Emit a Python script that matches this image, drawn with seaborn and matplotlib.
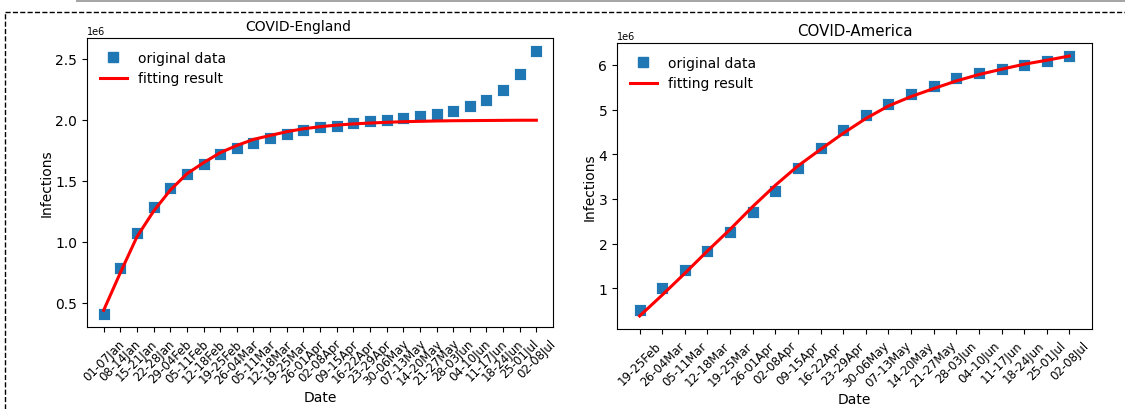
"""
COVID infections: original weekly data vs fitted curve
England (left) and America (right)
"""

import numpy as np
import pandas as pd
import matplotlib
matplotlib.use('Agg')
import matplotlib.pyplot as plt
from matplotlib.lines import Line2D
from matplotlib.patches import Rectangle
import seaborn as sns

# ---- data (infections, in millions) ----
england_weeks = ['01-07Jan', '08-14Jan', '15-21Jan', '22-28Jan', '29-04Feb', '05-11Feb',
                 '12-18Feb', '19-25Feb', '26-04Mar', '05-11Mar', '12-18Mar', '19-25Mar',
                 '26-01Apr', '02-08Apr', '09-15Apr', '16-22Apr', '23-29Apr', '30-06May',
                 '07-13May', '14-20May', '21-27May', '28-03Jun', '04-10Jun', '11-17Jun',
                 '18-24Jun', '25-01Jul', '02-08Jul']
england_original = [0.41, 0.784, 1.076, 1.284, 1.439, 1.554, 1.639, 1.716, 1.765,
                    1.806, 1.847, 1.885, 1.918, 1.939, 1.951, 1.970, 1.989, 2.002,
                    2.016, 2.030, 2.046, 2.068, 2.109, 2.164, 2.240, 2.374, 2.562]
england_fit = [0.439, 0.746, 1.041, 1.251, 1.423, 1.557, 1.648, 1.730, 1.789,
               1.839, 1.871, 1.902, 1.926, 1.943, 1.956, 1.966, 1.973, 1.979,
               1.984, 1.987, 1.990, 1.992, 1.993, 1.994, 1.995, 1.996, 1.996]

america_weeks = ['19-25Feb', '26-04Mar', '05-11Mar', '12-18Mar', '19-25Mar', '26-01Apr',
                 '02-08Apr', '09-15Apr', '16-22Apr', '23-29Apr', '30-06May', '07-13May',
                 '14-20May', '21-27May', '28-03Jun', '04-10Jun', '11-17Jun', '18-24Jun',
                 '25-01Jul', '02-08Jul']
america_original = [0.523, 1.007, 1.41, 1.844, 2.254, 2.716, 3.187, 3.693, 4.15, 4.545,
                    4.874, 5.127, 5.351, 5.523, 5.709, 5.814, 5.919, 6.0, 6.09, 6.20]
america_fit = [0.38, 0.85, 1.336, 1.836, 2.32, 2.83, 3.306, 3.74, 4.11, 4.47,
               4.80, 5.082, 5.292, 5.471, 5.642, 5.785, 5.904, 6.016, 6.105, 6.20]


def draw_panel(ax, weeks, original, fit, title, title_x=0.5, title_size=11):
    df = pd.DataFrame({
        'x': np.arange(len(weeks)),
        'original': np.array(original) * 1e6,
        'fit': np.array(fit) * 1e6,
    })
    sns.scatterplot(data=df, x='x', y='original', marker='s', s=66, color='#1f77b4',
                    edgecolor='white', linewidth=0.6, ax=ax, zorder=2, legend=False)
    sns.lineplot(data=df, x='x', y='fit', color='red', linewidth=2.2, ax=ax, zorder=3,
                 legend=False)

    handles = [
        Line2D([], [], marker='s', linestyle='none', color='#1f77b4', markersize=7.5),
        Line2D([], [], color='red', linewidth=2.2),
    ]
    ax.legend(handles, ['original data', 'fitting result'], loc='upper left',
              frameon=False, fontsize=10)

    ax.set_xlim(-1, len(weeks))
    ax.set_xticks(range(len(weeks)))
    ax.set_xticklabels(weeks, rotation=45, fontsize=8.5)
    ax.set_xlabel('Date', fontsize=10, labelpad=2)
    ax.set_ylabel('Infections', fontsize=10, labelpad=1)
    ax.set_title(title, fontsize=title_size, x=title_x)
    ax.yaxis.get_offset_text().set_fontsize(7)


fig = plt.figure(figsize=(11.25, 4.1), dpi=100)

ax1 = fig.add_axes([87 / 1125, 82 / 410, 466 / 1125, 289 / 410])
draw_panel(ax1, england_weeks, england_original, england_fit, 'COVID-England',
           title_x=0.453, title_size=10)

ax2 = fig.add_axes([617 / 1125, 80 / 410, 475 / 1125, 286 / 410])
draw_panel(ax2, america_weeks, america_original, america_fit, 'COVID-America',
           title_size=10.8)

# page decoration around the figure (grey bar and dashed frame)
fig.add_artist(Rectangle((76 / 1125, 1 - 3 / 410), 1, 3 / 410, transform=fig.transFigure,
                         facecolor='#a6a6a6', edgecolor='none'))
fig.add_artist(Line2D([5 / 1125, 1], [1 - 13 / 410, 1 - 13 / 410], transform=fig.transFigure,
                      color='black', linestyle='--', linewidth=1.0))
fig.add_artist(Line2D([5 / 1125, 5 / 1125], [0, 1 - 13 / 410], transform=fig.transFigure,
                      color='black', linestyle='--', linewidth=1.0))

plt.savefig('out.png', dpi=100)
plt.close()
